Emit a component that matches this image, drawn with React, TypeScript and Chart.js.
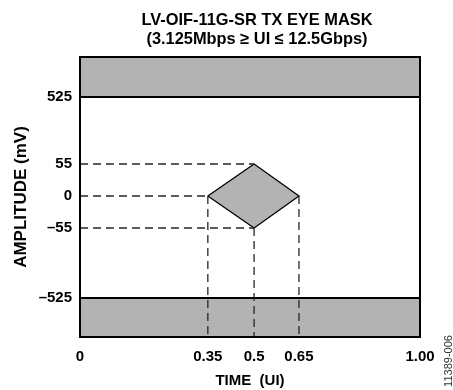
import React, { useEffect, useRef } from 'react';
import { Chart, registerables } from 'chart.js';

Chart.register(...registerables);

// ---- data ----
const titleLines = ['LV-OIF-11G-SR TX EYE MASK', '(3.125Mbps ≥ UI ≤ 12.5Gbps)'];
const xAxisTitle = 'TIME  (UI)';
const yAxisTitle = 'AMPLITUDE (mV)';
const figureId = '11389-006';

const xTickValues = [0, 0.35, 0.5, 0.65, 1.0];
const xTickLabels = ['0', '0.35', '0.5', '0.65', '1.00'];
const yTickValues = [-525, -55, 0, 55, 525];
const yTickLabels = ['–525', '–55', '0', '55', '525'];

// schematic (not to scale) placement of the tick values along each axis
const xTickPlaces = [0, 0.376, 0.512, 0.644, 1];
const yTickPlaces = [-102, -32, 0, 32, 99];
const yAxisPlaceRange = [-141, 139];

const upperLimitMv = 525;
const lowerLimitMv = -525;

const diamondTime = [0.35, 0.5, 0.65, 0.5, 0.35];
const diamondAmp = [0, 55, 0, -55, 0];

// horizontal guides: amplitude, running from time 0 to the given time
const hGuideAmp = [55, 0, -55];
const hGuideEnd = [0.5, 0.35, 0.5];
// vertical guides: time, running from the given amplitude down to the axis bottom
const vGuideTime = [0.35, 0.5, 0.65];
const vGuideStart = [0, -55, 0];

// ---- helpers ----
const interp = (v: number, vals: number[], places: number[]) => {
  for (let i = 0; i < vals.length - 1; i++) {
    if (v <= vals[i + 1] || i === vals.length - 2) {
      const t = (v - vals[i]) / (vals[i + 1] - vals[i]);
      return places[i] + t * (places[i + 1] - places[i]);
    }
  }
  return places[0];
};
const px = (t: number) => interp(t, xTickValues, xTickPlaces);
const py = (mv: number) => interp(mv, yTickValues, yTickPlaces);

const FONT = "'Liberation Sans', Arial, Helvetica, sans-serif";
const GRAY = '#b3b3b3';
const DASH_COLOR = '#262626';

const decor = {
  id: 'decor',
  afterDatasetsDraw(chart: any) {
    const { ctx, chartArea: a } = chart;
    ctx.save();
    ctx.strokeStyle = '#000';
    ctx.lineWidth = 2;
    ctx.strokeRect(a.left, a.top, a.right - a.left, a.bottom - a.top);
    ctx.restore();
  },
  afterDraw(chart: any) {
    const { ctx } = chart;
    ctx.save();
    ctx.fillStyle = '#000';
    ctx.textAlign = 'center';
    ctx.textBaseline = 'middle';
    ctx.font = `bold 16.4px ${FONT}`;
    ctx.fillText(titleLines[0], 257, 20.5);
    ctx.fillText(titleLines[1], 257, 39.5);
    ctx.translate(449, 361);
    ctx.rotate(-Math.PI / 2);
    ctx.font = `11px ${FONT}`;
    ctx.fillStyle = '#333';
    ctx.fillText(figureId, 0, 0);
    ctx.restore();
  },
};

export default function App() {
  const ref = useRef<HTMLCanvasElement>(null);

  useEffect(() => {
    const yMinPlace = yAxisPlaceRange[0];
    const dashStyle = {
      borderColor: DASH_COLOR,
      borderWidth: 1.3,
      borderDash: [8, 5],
      pointRadius: 0,
      fill: false,
      tension: 0,
    };
    const guides: any[] = [];
    hGuideAmp.forEach((a, i) => {
      guides.push({
        ...dashStyle,
        data: [
          { x: px(0), y: py(a) },
          { x: px(hGuideEnd[i]), y: py(a) },
        ],
      });
    });
    vGuideTime.forEach((t, i) => {
      guides.push({
        ...dashStyle,
        data: [
          { x: px(t), y: py(vGuideStart[i]) },
          { x: px(t), y: yMinPlace },
        ],
      });
    });

    const chart = new Chart(ref.current!, {
      type: 'line',
      data: {
        datasets: [
          ...guides,
          {
            data: diamondTime.map((t, i) => ({ x: px(t), y: py(diamondAmp[i]) })),
            borderColor: '#000',
            borderWidth: 1.3,
            backgroundColor: GRAY,
            fill: 'shape',
            pointRadius: 0,
            tension: 0,
          },
          {
            data: [
              { x: px(0), y: py(upperLimitMv) },
              { x: px(1), y: py(upperLimitMv) },
            ],
            borderColor: '#000',
            borderWidth: 2,
            backgroundColor: GRAY,
            fill: 'end',
            pointRadius: 0,
          },
          {
            data: [
              { x: px(0), y: py(lowerLimitMv) },
              { x: px(1), y: py(lowerLimitMv) },
            ],
            borderColor: '#000',
            borderWidth: 2,
            backgroundColor: GRAY,
            fill: 'start',
            pointRadius: 0,
          },
        ],
      },
      options: {
        animation: false,
        responsive: false,
        devicePixelRatio: 1,
        layout: { padding: { top: 57, right: 33, left: 0, bottom: 0 } },
        plugins: {
          legend: { display: false },
          tooltip: { enabled: false },
          title: { display: false },
        },
        scales: {
          x: {
            type: 'linear',
            min: 0,
            max: 1,
            afterFit: (s: any) => {
              s.height = 53;
            },
            afterBuildTicks: (s: any) => {
              s.ticks = xTickPlaces.map((v) => ({ value: v }));
            },
            grid: { display: false, drawTicks: false },
            border: { display: false },
            ticks: {
              autoSkip: false,
              maxRotation: 0,
              padding: 11,
              color: '#000',
              font: { family: FONT, size: 15, weight: 'bold' },
              callback: (_v: any, i: number) => xTickLabels[i],
            },
            title: {
              display: true,
              text: xAxisTitle,
              color: '#000',
              font: { family: FONT, size: 15, weight: 'bold' },
              padding: { top: 0, bottom: 0 },
            },
          },
          y: {
            type: 'linear',
            min: yAxisPlaceRange[0],
            max: yAxisPlaceRange[1],
            afterFit: (s: any) => {
              s.width = 80;
            },
            afterBuildTicks: (s: any) => {
              s.ticks = yTickPlaces.map((v) => ({ value: v }));
            },
            grid: { display: false, drawTicks: false },
            border: { display: false },
            ticks: {
              autoSkip: false,
              padding: 8,
              color: '#000',
              font: { family: FONT, size: 15, weight: 'bold' },
              callback: (_v: any, i: number) => yTickLabels[i],
            },
            title: {
              display: true,
              text: yAxisTitle,
              color: '#000',
              font: { family: FONT, size: 17, weight: 'bold' },
              padding: { top: 11.5, bottom: 0 },
            },
          },
        },
      } as any,
      plugins: [decor],
    });
    return () => chart.destroy();
  }, []);

  return (
    <div style={{ position: 'absolute', left: 0, top: 0, width: 453, height: 390 }}>
      <canvas
        ref={ref}
        width={453}
        height={390}
        style={{ display: 'block', width: 453, height: 390 }}
      />
    </div>
  );
}
